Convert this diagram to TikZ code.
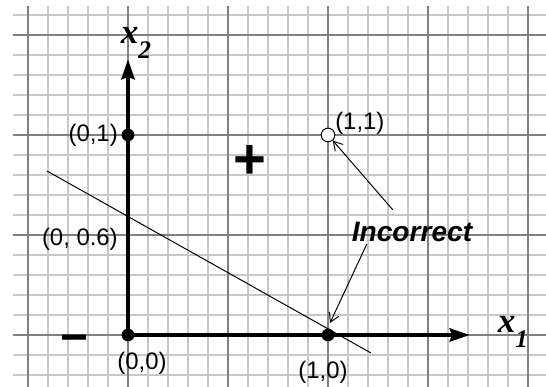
\documentclass[tikz,border=0pt]{standalone}
\usepackage{fontspec}
\setmainfont{Liberation Sans}
\newfontfamily\axisfont{Liberation Serif}
\usetikzlibrary{arrows.meta}

\tikzset{
  minorline/.style={line width=1.3pt, draw=black!22},
  majorline/.style={line width=1.3pt, draw=black!50},
  axisline/.style={line width=3.2pt, -{Stealth[length=0.5cm,width=0.32cm,inset=0.05cm]}},
  dotpt/.style={circle, fill, inner sep=0pt, minimum size=0.32cm},
  openpt/.style={circle, draw, fill=white, line width=0.7pt, inner sep=0pt, minimum size=0.34cm},
  lbl/.style={font=\fontsize{17}{20}\selectfont, inner sep=0pt},
  signlbl/.style={font=\fontsize{40}{44}\selectfont\bfseries, inner sep=0pt},
  axislbl/.style={font=\axisfont\fontsize{25}{28}\selectfont\bfseries\itshape, inner sep=0pt},
  pointer/.style={line width=0.7pt, -{Straight Barb[length=0.22cm,width=0.26cm]}},
}

\begin{document}
\begin{tikzpicture}[x=5cm, y=5cm]
    \useasboundingbox (-0.64,-0.26) rectangle (2.09,1.675);

    % grid
    \foreach \i in {-5,...,20}
        \draw[minorline] (\i/10,-0.26) -- (\i/10,1.645);
    \foreach \j in {-2,...,16}
        \draw[minorline] (-0.575,\j/10) -- (2.09,\j/10);
    \foreach \i in {-0.5,0,0.5,1,1.5,2}
        \draw[majorline] (\i,-0.26) -- (\i,1.645);
    \foreach \j in {0,0.5,1,1.5}
        \draw[majorline] (-0.575,\j) -- (2.09,\j);

    % axes
    \coordinate (xtip) at (1.71,0);
    \coordinate (ytip) at (0,1.38);
    \coordinate (orig) at (0,0);
    \draw[axisline] (orig) -- (xtip);
    \draw[axisline] (orig) -- (ytip);
    \node[axislbl] (x1) at (1.925,0.015) {x\raisebox{-0.45em}{\fontsize{18}{20}\selectfont 1}};
    \node[axislbl] (x2) at (0.04,1.46) {x\raisebox{-0.45em}{\fontsize{18}{20}\selectfont 2}};

    % decision line
    \coordinate (lstart) at (-0.405,0.82);
    \coordinate (lend) at (1.215,-0.09);
    \draw[line width=0.7pt] (lstart) -- (lend);

    % points
    \node[dotpt] (p00) at (0,0) {};
    \node[dotpt] (p10) at (1,0) {};
    \node[dotpt] (p01) at (0,1) {};
    \node[openpt] (p11) at (1,1) {};

    % labels
    \node[lbl, anchor=east] (l01) at (-0.05,1.0) {(0,1)};
    \node[lbl, anchor=west] (l11) at (1.035,1.06) {(1,1)};
    \node[lbl, anchor=east] (l06) at (-0.05,0.48) {(0, 0.6)};
    \node[lbl] (l00) at (0.07,-0.14) {(0,0)};
    \node[lbl] (l10) at (0.975,-0.185) {(1,0)};
    \node[signlbl] (plus) at (0.61,0.865) {+};
    \node[signlbl, font=\fontsize{34}{40}\selectfont\bfseries] (minus) at (-0.27,-0.045) {\char"2212};

    % wrong points
    \node[lbl, font=\fontsize{20}{24}\selectfont\bfseries\itshape] (incorrect) at (1.42,0.515) {Incorrect};
    \coordinate (miss) at (1.01,0.06);
    \draw[pointer, shorten <=0.4cm] (incorrect) -- (p11);
    \draw[pointer] ([xshift=0.38cm,yshift=-0.05cm]incorrect.south west) -- (miss);
\end{tikzpicture}
\end{document}
